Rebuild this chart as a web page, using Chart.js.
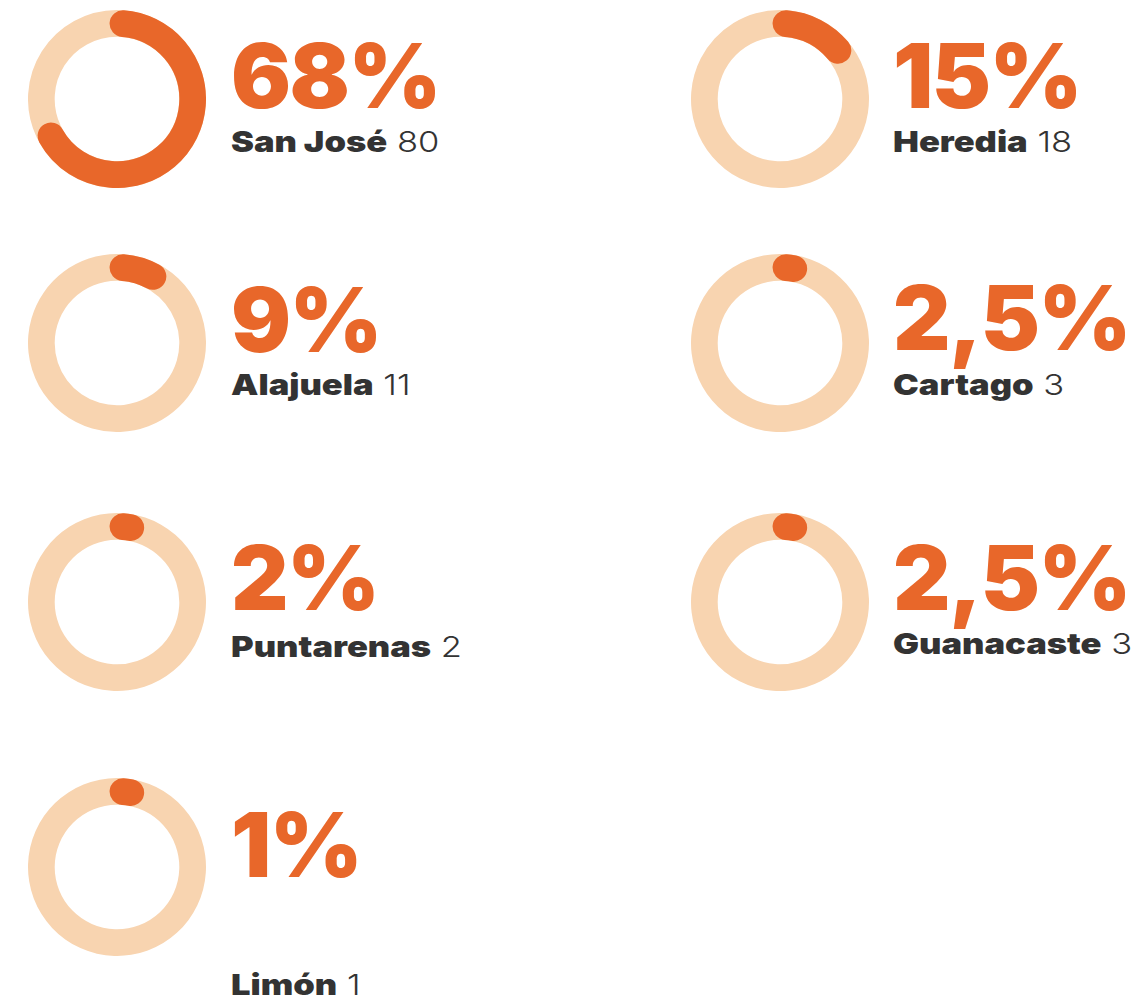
<!DOCTYPE html>
<html lang="es">
<head>
<meta charset="utf-8">
<script src="https://cdn.jsdelivr.net/npm/chart.js@4.4.1/dist/chart.umd.min.js"></script>
<style>
  html, body { margin: 0; padding: 0; background: #fff; }
  body { width: 1145px; height: 1002px; position: relative; overflow: hidden; font-family: "Inter", "Noto Sans", sans-serif; }
  .anillo { position: absolute; width: 178px; height: 178px; }
  .pct { position: absolute; white-space: nowrap; color: #E8672A; font-weight: 900; font-size: 89px; line-height: 70px; letter-spacing: -1.5px; }
  .lbl { position: absolute; white-space: nowrap; color: #333333; font-size: 29px; line-height: 24px; transform: scaleX(1.19); transform-origin: left center; }
  .lbl b { font-weight: 900; }
  .lbl span { font-weight: 300; }
</style>
</head>
<body>
<script>
// Datos
const provincias = ["San José", "Heredia", "Alajuela", "Cartago", "Puntarenas", "Guanacaste", "Limón"];
const casos = [80, 18, 11, 3, 2, 3, 1];
const porcentajes = [68, 15, 9, 2.5, 2, 2.5, 1];
const etiquetasPct = ["68%", "15%", "9%", "2,5%", "2%", "2,5%", "1%"];

// Colores
const naranja = "#E8672A";
const crema = "#F8D4B0";

// Posicion de cada anillo (centro) y linea base de los textos
const disposicion = [
  { cx: 117, cy: 98.5, tx: 231, pctBase: 108, lblBase: 152 },
  { cx: 779.5, cy: 98.5, tx: 893, pctBase: 108, lblBase: 152 },
  { cx: 117, cy: 343.3, tx: 231, pctBase: 352, lblBase: 395 },
  { cx: 779.5, cy: 343.3, tx: 893, pctBase: 350, lblBase: 395 },
  { cx: 117, cy: 601.5, tx: 231, pctBase: 610, lblBase: 657 },
  { cx: 779.5, cy: 601.5, tx: 893, pctBase: 610, lblBase: 654 },
  { cx: 117, cy: 867, tx: 231, pctBase: 877, lblBase: 995 }
];

const grados = Math.PI / 180;

// Plugin: arco naranja con extremos redondeados encima del anillo
const arcoRedondeado = {
  id: "arcoRedondeado",
  afterDatasetsDraw(chart) {
    const arco = chart.getDatasetMeta(0).data[0];
    if (!arco) return;
    const { x, y, startAngle, endAngle, innerRadius, outerRadius } =
      arco.getProps(["x", "y", "startAngle", "endAngle", "innerRadius", "outerRadius"], true);
    const grosor = outerRadius - innerRadius;
    const medio = (outerRadius + innerRadius) / 2;
    const ini = startAngle + 4.5 * grados;
    const fin = Math.max(endAngle - 4 * grados, ini + 6 * grados);
    const ctx = chart.ctx;
    ctx.save();
    ctx.beginPath();
    ctx.arc(x, y, medio, ini, fin);
    ctx.lineWidth = grosor;
    ctx.lineCap = "round";
    ctx.strokeStyle = naranja;
    ctx.stroke();
    ctx.restore();
  }
};

function crearAnillo(i) {
  const pos = disposicion[i];
  const caja = document.createElement("div");
  caja.className = "anillo";
  caja.style.left = (pos.cx - 89) + "px";
  caja.style.top = (pos.cy - 89) + "px";
  const canvas = document.createElement("canvas");
  caja.appendChild(canvas);
  document.body.appendChild(caja);

  new Chart(canvas, {
    type: "doughnut",
    data: {
      labels: [provincias[i], "Resto"],
      datasets: [{
        data: [porcentajes[i], 100 - porcentajes[i]],
        backgroundColor: [crema, crema],
        borderWidth: 0
      }]
    },
    options: {
      responsive: true,
      maintainAspectRatio: false,
      animation: false,
      cutout: "70%",
      layout: { padding: 0 },
      plugins: {
        legend: { display: false },
        tooltip: { enabled: false }
      }
    },
    plugins: [arcoRedondeado]
  });

  // Textos: porcentaje grande y nombre con casos
  const pct = document.createElement("div");
  pct.className = "pct";
  pct.textContent = etiquetasPct[i];
  pct.style.left = pos.tx + "px";
  pct.style.top = (pos.pctBase - 67.4) + "px";
  document.body.appendChild(pct);

  const lbl = document.createElement("div");
  lbl.className = "lbl";
  lbl.innerHTML = "<b>" + provincias[i] + "</b> <span>" + casos[i] + "</span>";
  lbl.style.left = pos.tx + "px";
  lbl.style.top = (pos.lblBase - 22.5) + "px";
  document.body.appendChild(lbl);
}

provincias.forEach((p, i) => crearAnillo(i));
</script>
</body>
</html>
